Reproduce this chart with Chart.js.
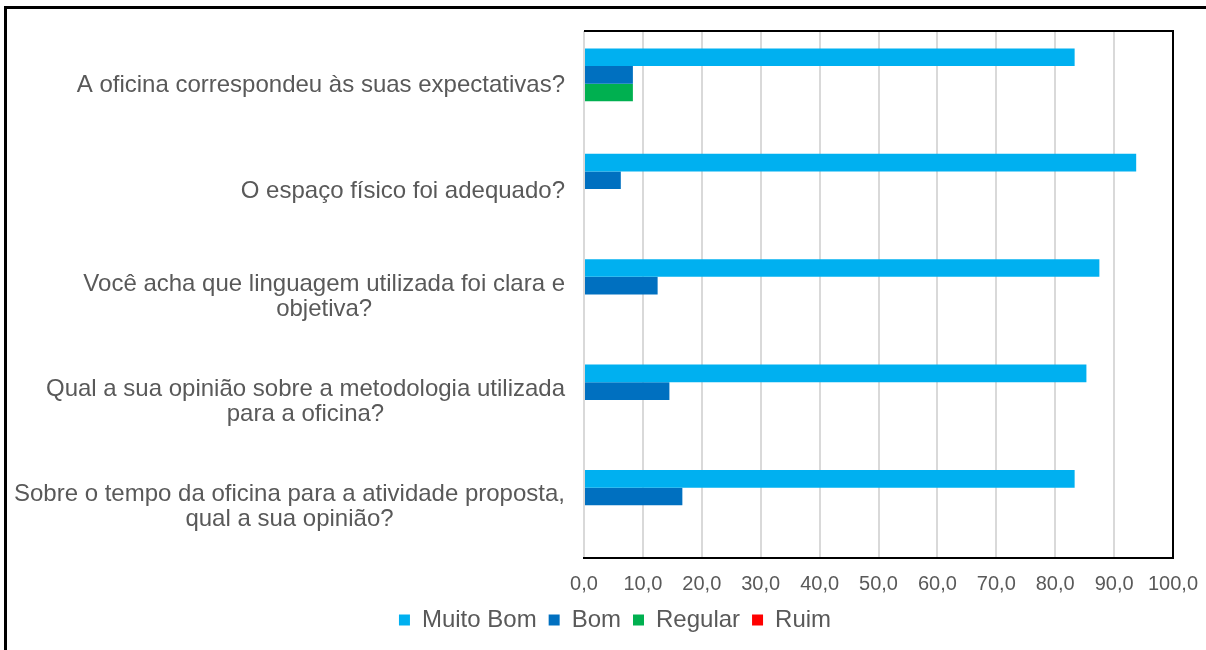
<!DOCTYPE html>
<html>
<head>
<meta charset="utf-8">
<script src="https://cdn.jsdelivr.net/npm/chart.js@4"></script>
<style>
  html, body { margin: 0; padding: 0; background: #fff; overflow: hidden; }
  #frame { position: absolute; left: 4px; top: 6px; width: 1400px; height: 800px;
           border-left: 3px solid #000; border-top: 3px solid #000; }
  #wrap { position: absolute; left: 0; top: 0; width: 1206px; height: 650px; }
</style>
</head>
<body>
<div id="frame"></div>
<div id="wrap"><canvas id="chart"></canvas></div>
<script>
const questions = [
    ["A oficina correspondeu às suas expectativas?"],
    ["O espaço físico foi adequado?"],
    ["Você acha que linguagem utilizada foi clara e", "objetiva?"],
    ["Qual a sua opinião sobre a metodologia utilizada", "para a oficina?"],
    ["Sobre o tempo da oficina para a atividade proposta,", "qual a sua opinião?"],
];
const muitoBom = [83.3, 93.75, 87.5, 85.3, 83.3];
const bom      = [8.3, 6.25, 12.5, 14.5, 16.7];
const regular  = [8.3, 0, 0, 0, 0];
const ruim     = [0, 0, 0, 0, 0];

const textColor = "#595959";
const fontFamily = "'Liberation Sans', Arial, sans-serif";

// Excel-style category labels: block right aligned, lines centred within it
const yLabelPlugin = {
    id: "yLabels",
    afterDraw(chart) {
        const ctx = chart.ctx;
        const yScale = chart.scales.y;
        ctx.save();
        ctx.font = "24px " + fontFamily;
        ctx.fillStyle = textColor;
        ctx.textAlign = "center";
        ctx.textBaseline = "middle";
        const lineHeight = 25;
        chart.data.labels.forEach((lines, i) => {
            const y = yScale.getPixelForTick(i) + 2;
            const maxW = Math.max(...lines.map(l => ctx.measureText(l).width));
            const cx = yScale.right - 19 - maxW / 2;
            const top = y - (lines.length - 1) * lineHeight / 2;
            lines.forEach((l, j) => ctx.fillText(l, cx, top + j * lineHeight));
        });
        ctx.restore();
    }
};

// black border on top and right of the plot area
const boxPlugin = {
    id: "plotBox",
    afterDatasetsDraw(chart) {
        const { ctx, chartArea: a } = chart;
        ctx.save();
        ctx.strokeStyle = "#000";
        ctx.lineWidth = 2;
        ctx.beginPath();
        ctx.moveTo(a.left, a.top);
        ctx.lineTo(a.right, a.top);
        ctx.lineTo(a.right, a.bottom);
        ctx.stroke();
        ctx.restore();
    }
};

new Chart("chart", {
    type: "bar",
    data: {
        labels: questions,
        datasets: [
            { label: "Muito Bom", data: muitoBom, backgroundColor: "#00B0F0" },
            { label: "Bom", data: bom, backgroundColor: "#0070C0" },
            { label: "Regular", data: regular, backgroundColor: "#00B050" },
            { label: "Ruim", data: ruim, backgroundColor: "#FF0000" },
        ],
    },
    options: {
        indexAxis: "y",
        responsive: true,
        maintainAspectRatio: false,
        animation: false,
        datasets: {
            bar: { barPercentage: 1, categoryPercentage: 0.67 },
        },
        layout: { padding: { top: 31, right: 0, bottom: 8, left: 24 } },
        scales: {
            x: {
                min: 0,
                max: 100,
                afterFit(scale) {
                    scale.height = 38;
                    scale.paddingRight = 33;
                },
                ticks: {
                    stepSize: 10,
                    color: textColor,
                    font: { family: fontFamily, size: 20 },
                    padding: 14,
                    callback: v => v.toFixed(1).replace(".", ","),
                },
                grid: { color: "#d9d9d9", lineWidth: 2, drawTicks: false },
                border: { color: "#000", width: 2 },
            },
            y: {
                afterFit(scale) { scale.width = 560; },
                ticks: { display: false },
                grid: { display: false },
                border: { display: false },
            },
        },
        plugins: {
            legend: {
                position: "bottom",
                labels: {
                    color: textColor,
                    font: { family: fontFamily, size: 24 },
                    boxWidth: 11,
                    boxHeight: 11,
                    padding: 12,
                },
            },
            tooltip: { enabled: false },
        },
    },
    plugins: [yLabelPlugin, boxPlugin],
});
</script>
</body>
</html>
